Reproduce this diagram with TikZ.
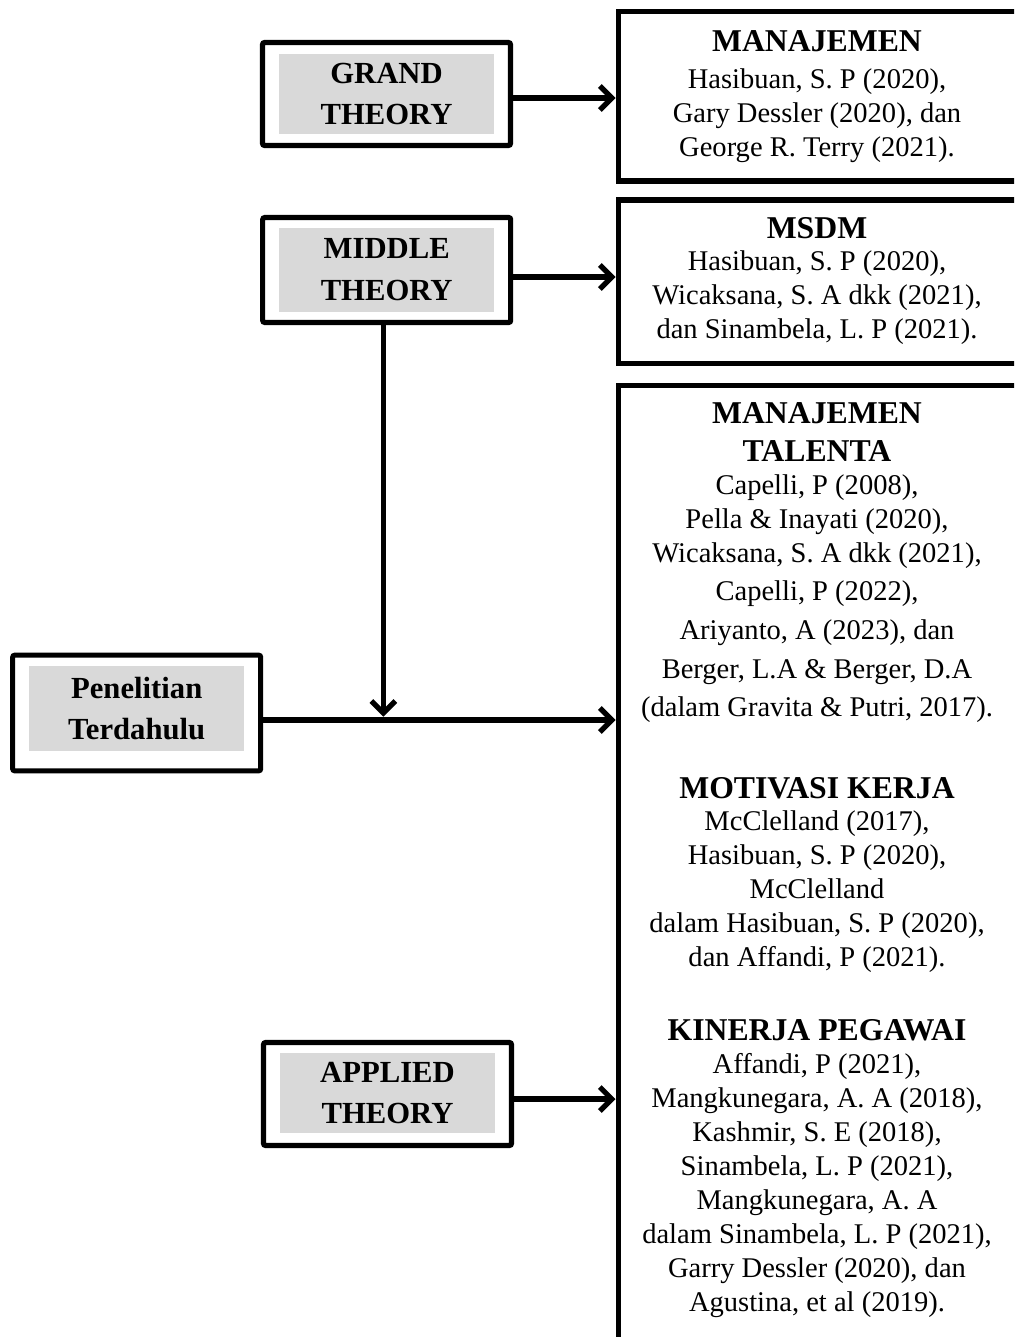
\documentclass[tikz,border=0pt]{standalone}
\usepackage{fontspec}
\setmainfont{Liberation Serif}
\usetikzlibrary{arrows.meta}

\tikzset{
  outbox/.style={draw, line width=3.8pt, rounded corners=1.5pt, minimum width=186pt},
  graybox/.style={fill=black!15, minimum width=161.25pt, align=center, inner sep=0pt, font=\fontsize{23}{31}\selectfont\bfseries},
  refbox/.style={draw, line width=3.8pt, anchor=north west, minimum width=337.5pt},
  head/.style={anchor=base, align=center, inner sep=0pt, font=\fontsize{23.8}{28.8}\selectfont\bfseries},
  body/.style={anchor=base, align=center, inner sep=0pt, font=\fontsize{21.4}{25.5}\selectfont},
  arr/.style={line width=3.9pt, -{Straight Barb[length=9pt,width=18pt]}}
}

\begin{document}
\begin{tikzpicture}[x=0.75pt,y=-0.75pt]
\clip (0,0) rectangle (1014,1337);

\node[outbox, minimum height=77.25pt] (grand) at (386.5,94) {};
\node[graybox, minimum height=60pt] (grandtxt) at (386.5,94) {GRAND\\THEORY};
\node[outbox, minimum height=78.75pt] (middle) at (386.7,270) {};
\node[graybox, minimum height=63pt] (middletxt) at (386.7,269.7) {MIDDLE\\THEORY};
\node[outbox, minimum height=86.7pt] (pen) at (136.7,713) {};
\node[graybox, minimum height=63.75pt] (pentxt) at (136.7,708.5) {Penelitian\\Terdahulu};
\node[outbox, minimum height=77.25pt] (applied) at (387.5,1094) {};
\node[graybox, minimum height=60pt] (appliedtxt) at (387.5,1093) {APPLIED\\THEORY};

\node[refbox, minimum height=127.1pt] (manbox) at (615.5,9) {};
\node[refbox, minimum height=122.5pt] (msdmbox) at (615.5,197.5) {};
\node[refbox, minimum height=750pt] (talbox) at (615.5,382.5) {};

\node[head] (manhead) at (817,51.7) {MANAJEMEN};
\node[body] (manref) at (817,156.7) {Hasibuan, S. P (2020),\\Gary Dessler (2020), dan\\George R. Terry (2021).};

\node[head] (msdmhead) at (817,238.3) {MSDM};
\node[body] (msdmref) at (817,338.3) {Hasibuan, S. P (2020),\\Wicaksana, S. A dkk (2021),\\dan Sinambela, L. P (2021).};

\node[head] (talhead) at (817,461.7) {MANAJEMEN\\TALENTA};
\node[body] (talref) at (817,716.7) {Capelli, P (2008),\\Pella \& Inayati (2020),\\Wicaksana, S. A dkk (2021),\\[3.5pt]Capelli, P (2022),\\[3.5pt]Ariyanto, A (2023), dan\\[3.5pt]Berger, L.A \& Berger, D.A\\[3.5pt](dalam Gravita \& Putri, 2017).};

\node[head] (mothead) at (817,798.3) {MOTIVASI KERJA};
\node[body] (motref) at (817,966.7) {McClelland (2017),\\Hasibuan, S. P (2020),\\McClelland\\dalam Hasibuan, S. P (2020),\\dan Affandi, P (2021).};

\node[head] (kinhead) at (817,1040) {KINERJA PEGAWAI};
\node[body] (kinref) at (817,1311.7) {Affandi, P (2021),\\Mangkunegara, A. A (2018),\\Kashmir, S. E (2018),\\Sinambela, L. P (2021),\\Mangkunegara, A. A\\dalam Sinambela, L. P (2021),\\Garry Dessler (2020), dan\\Agustina, et al (2019).};

\coordinate (pe) at ([yshift=-5.25pt]pen.east);
\draw[arr] ([yshift=-3pt]grand.east) -- ([yshift=-3pt]grand.east -| manbox.west);
\draw[arr] ([yshift=-5.25pt]middle.east) -- ([yshift=-5.25pt]middle.east -| msdmbox.west);
\draw[arr] (pe) -- (pe -| talbox.west);
\draw[arr, shorten >=2.5pt] ([xshift=-2.5pt]middle.south) -- ([xshift=-2.5pt]middle.south |- pe);
\draw[arr] ([yshift=-3.75pt]applied.east) -- ([yshift=-3.75pt]applied.east -| talbox.west);
\end{tikzpicture}
\end{document}
